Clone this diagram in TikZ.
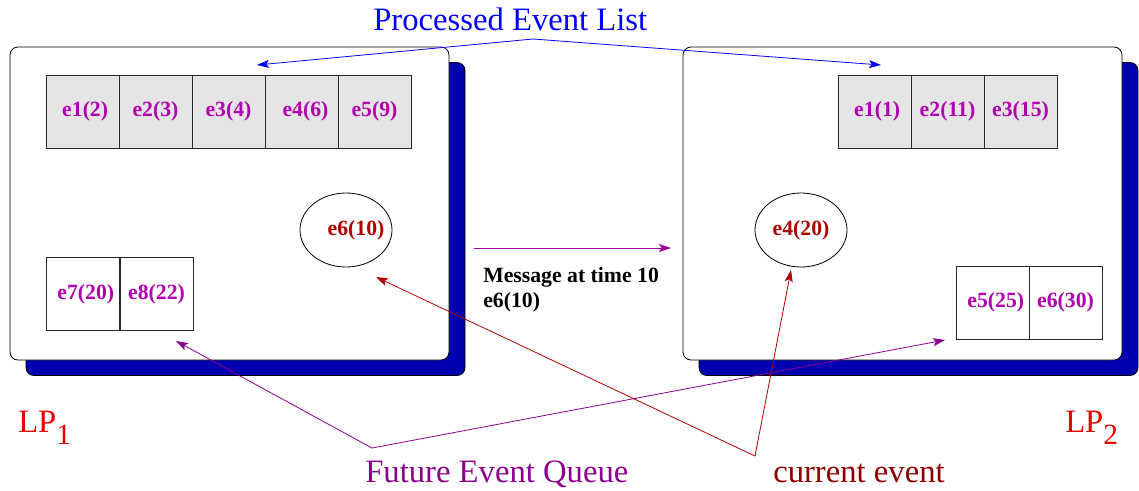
\documentclass[tikz,border=0pt]{standalone}
\usepackage{fontspec}
\setmainfont{Liberation Serif}
\usetikzlibrary{shapes.geometric,arrows.meta}

\definecolor{shadowblue}{RGB}{0,0,176}
\definecolor{cellgray}{RGB}{229,229,229}
\definecolor{labelmag}{RGB}{176,0,176}
\definecolor{msgpurple}{RGB}{160,0,160}
\definecolor{queuepurple}{RGB}{140,0,140}
\definecolor{evred}{RGB}{176,0,0}
\definecolor{curred}{RGB}{140,0,0}
\definecolor{lpred}{RGB}{230,0,0}
\definecolor{listblue}{RGB}{0,0,255}

\newcommand\cellsize{\fontsize{16.3}{19}\selectfont\bfseries}
\newcommand\bigsize{\fontsize{24.5}{26}\selectfont}

\begin{document}
\begin{tikzpicture}[x=0.75pt,y=-0.75pt,
  lpframe/.style={draw=black, fill=white, rounded corners=6pt, line width=0.6pt,
    minimum width=329.25pt, minimum height=234.75pt, inner sep=0pt, outer sep=0pt},
  lpshadow/.style={lpframe, fill=shadowblue},
  cell/.style={draw=black!85, line width=0.6pt, minimum width=54.75pt, minimum height=54.75pt,
    inner sep=0pt, outer sep=0pt, font=\cellsize, text=labelmag},
  donecell/.style={cell, fill=cellgray},
  evt/.style={ellipse, draw=black, line width=0.6pt, minimum width=69pt, minimum height=55.5pt,
    inner sep=0pt, font=\cellsize, text=evred},
  tip/.style={-{Stealth[length=9pt,width=6pt,inset=2pt]}, line width=0.6pt},
  caption/.style={anchor=base west, inner sep=0pt, font=\bigsize}
]
\useasboundingbox (0,0) rectangle (1139,490);

% logical processes: drop shadow and frame
\node[lpshadow] (lp1shadow) at (245.5,219) {};
\node[lpframe]  (lp1) at (229.5,203.5) {};
\node[lpshadow] (lp2shadow) at (918.5,219) {};
\node[lpframe]  (lp2) at (902.5,203.5) {};

% LP1 processed events
\node[donecell] (a1) at (82.5,111.5)  {\hspace{4pt}e1(2)};
\node[donecell] (a2) at (155.5,111.5) {e2(3)};
\node[donecell] (a3) at (228.5,111.5) {e3(4)};
\node[donecell] (a4) at (301.5,111.5) {\hspace{6pt}e4(6)};
\node[donecell] (a5) at (374.5,111.5) {e5(9)};
% LP1 current event and future queue
\node[evt] (cur1) at (346,230) {\makebox[0pt]{\hspace{15pt}e6(10)}};
\node[cell] (q1) at (82.5,294)  {\hspace{5pt}e7(20)};
\node[cell] (q2) at (156.5,294) {e8(22)\hspace{12pt}};

% LP2 processed events
\node[donecell] (b1) at (874.5,111.5)  {\hspace{4pt}e1(1)};
\node[donecell] (b2) at (947.5,111.5)  {e2(11)};
\node[donecell] (b3) at (1020.5,111.5) {e3(15)\hspace{6pt}};
% LP2 current event and future queue
\node[evt] (cur2) at (801,230) {e4(20)};
\node[cell] (r1) at (992.5,302.5)  {\hspace{5pt}e5(25)};
\node[cell] (r2) at (1065.5,302.5) {e6(30)\hspace{8pt}};

% labels
\node[caption, text=listblue] (pel) at (373,30) {Processed Event List};
\node[caption, text=queuepurple] (feq) at (365,482) {Future Event Queue};
\node[caption, text=curred] (cev) at (773,482) {current event};
\node[caption, text=lpred] (lp1name) at (18,432) {LP\raisebox{-9pt}{\fontsize{22}{22}\selectfont 1}};
\node[caption, text=lpred] (lp2name) at (1065,432) {LP\raisebox{-9pt}{\fontsize{22}{22}\selectfont 2}};

% message between the processes
\coordinate (msgFrom) at (474,248);
\coordinate (msgTo) at (671,248);
\draw[tip, msgpurple] (msgFrom) -- (msgTo);
\node[anchor=north west, inner sep=0pt, align=left, font=\cellsize] (msg) at (483,267)
  {Message at time 10\\e6(10)};

% pointer lines from the captions
\coordinate (pelApex) at (533,39);
\coordinate (pelL) at (257,65);
\coordinate (pelR) at (881,65);
\draw[tip, listblue] (pelApex) -- (pelL);
\draw[tip, listblue] (pelApex) -- (pelR);

\coordinate (feqApex) at (372,448);
\coordinate (feqL) at (176,341);
\coordinate (feqR) at (945,340);
\draw[tip, queuepurple] (feqApex) -- (feqL);
\draw[tip, queuepurple] (feqApex) -- (feqR);

\coordinate (cevApex) at (755,456);
\coordinate (cevL) at (376,277);
\coordinate (cevR) at (791,270);
\draw[tip, evred] (cevApex) -- (cevL);
\draw[tip, evred] (cevApex) -- (cevR);
\end{tikzpicture}
\end{document}
